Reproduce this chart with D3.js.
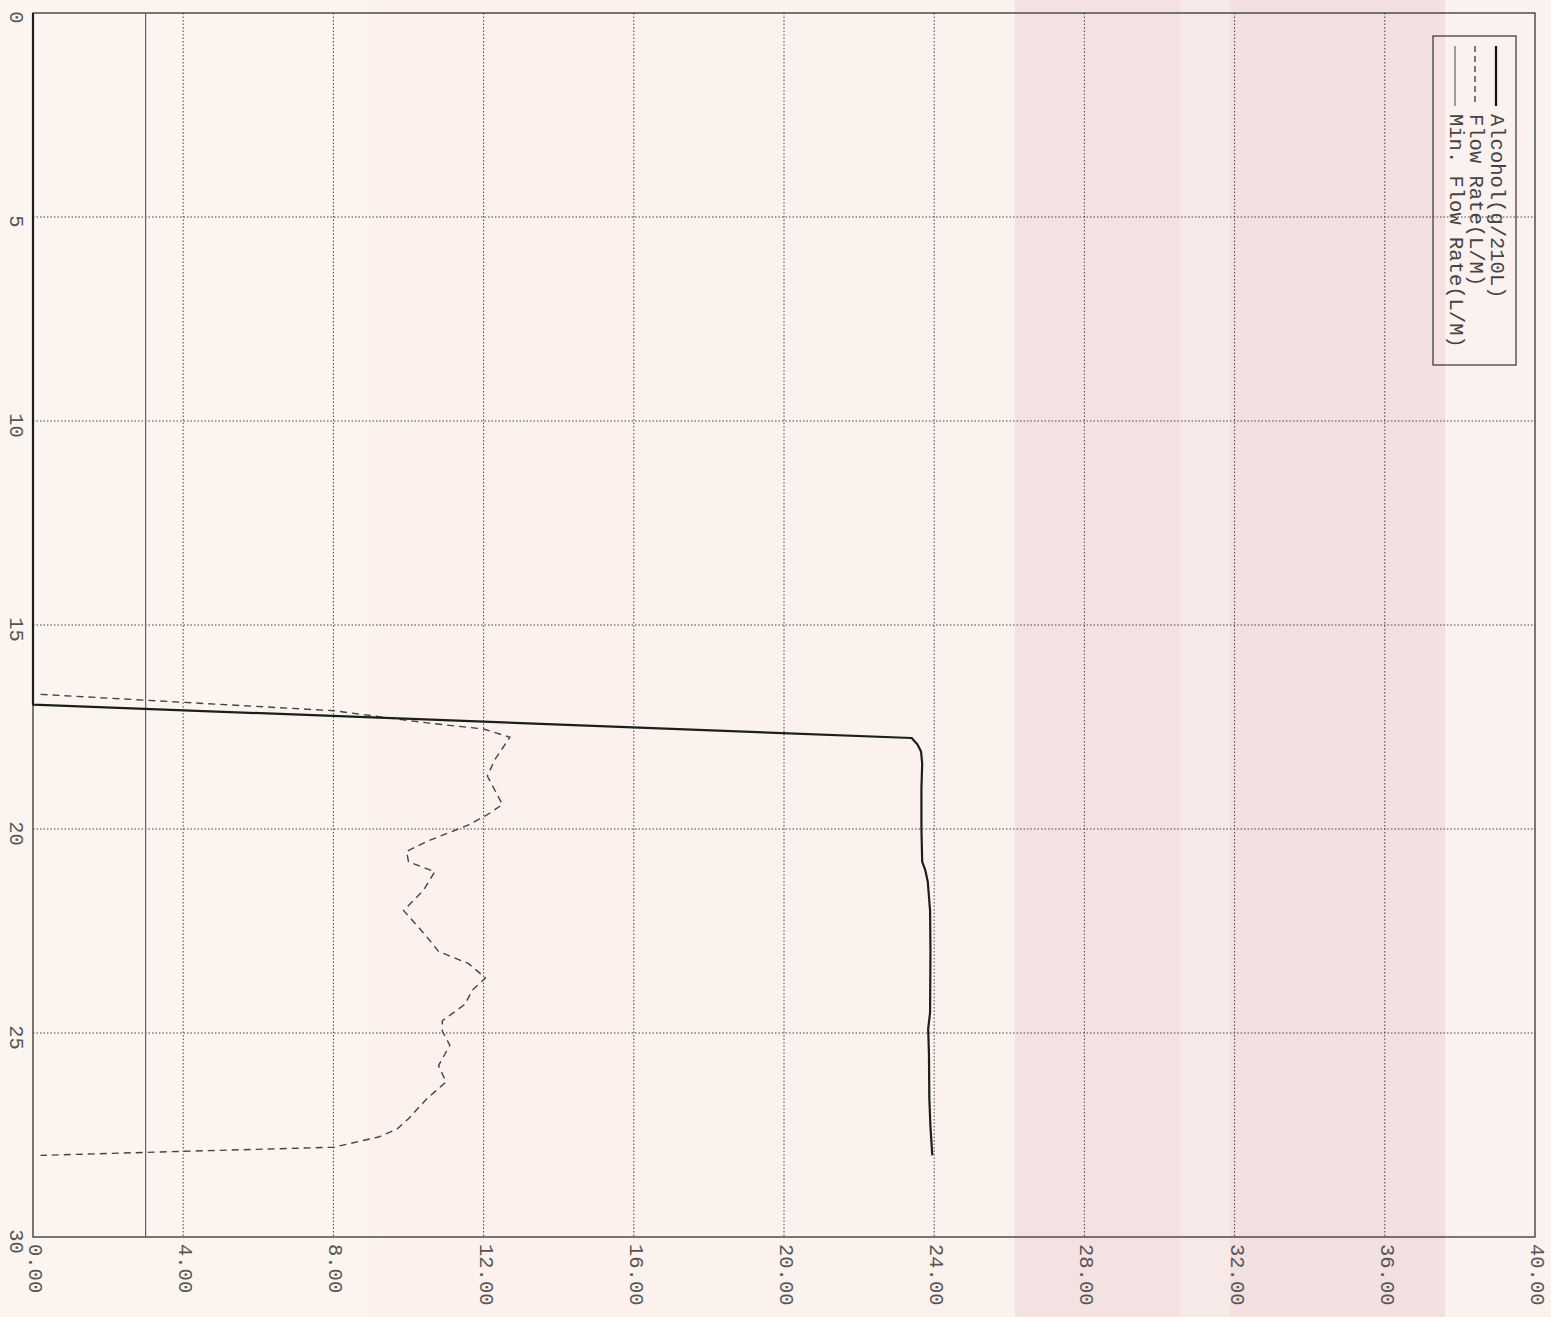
<!DOCTYPE html>
<html lang="en">
<head>
<meta charset="UTF-8">
<title>Breath test</title>
<style>
  body { margin: 0; background: #fcf5ef; }
  svg { display: block; }
</style>
</head>
<body>
<script src="https://cdn.jsdelivr.net/npm/d3@7/dist/d3.min.js"></script>
<script>
// --- data (time in seconds) ---
var alcoholTime  = [0, 16.95, 17.77, 17.92, 18.1, 18.4, 19.0, 20.0, 20.8, 21.0, 21.3, 22.0, 23.0, 24.5, 24.9, 25.5, 26.6, 27.3, 28.0];
var alcoholValue = [0, 0, 23.4, 23.55, 23.65, 23.68, 23.66, 23.66, 23.68, 23.76, 23.83, 23.89, 23.9, 23.89, 23.84, 23.86, 23.87, 23.9, 23.95];

var flowTime  = [16.7, 17.1, 17.4, 17.55, 17.75, 18.3, 18.7, 19.4, 19.65, 19.9, 20.3, 20.55, 20.8, 21.05, 21.5, 22.0, 22.6, 23.0, 23.3, 23.65, 23.95, 24.3, 24.7, 24.95, 25.3, 25.8, 26.2, 26.6, 27.1, 27.35, 27.55, 27.8, 27.9, 28.0];
var flowValue = [0.2, 8.0, 10.5, 12.0, 12.7, 12.3, 12.1, 12.5, 12.1, 11.6, 10.5, 9.95, 10.0, 10.7, 10.4, 9.87, 10.45, 10.8, 11.6, 12.05, 11.7, 11.5, 10.9, 10.9, 11.1, 10.8, 11.0, 10.5, 10.0, 9.7, 9.2, 8.0, 4.0, 0.2];

var minFlowTime  = [0, 30];
var minFlowValue = [3.0, 3.0];

var timeTicks  = [0, 5, 10, 15, 20, 25, 30];
var valueTicks = [0, 4, 8, 12, 16, 20, 24, 28, 32, 36, 40];
var legendLabels = ["Alcohol(g/210L)", "Flow Rate(L/M)", "Min. Flow Rate(L/M)"];

var W = 1551, H = 1317;
var plot = { left: 33, right: 1535, top: 13, bottom: 1237 };

var svg = d3.select("body").append("svg")
    .attr("width", W)
    .attr("height", H);

// scan tint bands in the background
var bands = [
  [0, 370, "#fcf5ef"], [370, 640, "#fcf1ec"], [640, 1015, "#fbf1ed"],
  [1015, 1180, "#f4e2e2"], [1180, 1230, "#f7e9e8"], [1230, 1445, "#f3e0e1"],
  [1445, 1551, "#fbf2ef"]
];
svg.selectAll("rect.band").data(bands).enter().append("rect")
    .attr("class", "band")
    .attr("x", function (d) { return d[0]; })
    .attr("y", 0)
    .attr("width", function (d) { return d[1] - d[0]; })
    .attr("height", H)
    .style("fill", function (d) { return d[2]; });

// scales: value goes across, time goes down
var x = d3.scaleLinear().domain([0, 40]).range([plot.left, plot.right]);
var y = d3.scaleLinear().domain([0, 30]).range([plot.top, plot.bottom]);

var font = "20.5px 'Liberation Mono', 'DejaVu Sans Mono', monospace";

// grid
svg.append("g").selectAll("line")
    .data(valueTicks.slice(1, -1)).enter().append("line")
    .attr("x1", function (d) { return x(d); })
    .attr("x2", function (d) { return x(d); })
    .attr("y1", plot.top).attr("y2", plot.bottom)
    .style("stroke", "#444")
    .style("stroke-width", 1)
    .style("stroke-dasharray", "1.5,2");

svg.append("g").selectAll("line")
    .data(timeTicks.slice(1, -1)).enter().append("line")
    .attr("y1", function (d) { return y(d); })
    .attr("y2", function (d) { return y(d); })
    .attr("x1", plot.left).attr("x2", plot.right)
    .style("stroke", "#444")
    .style("stroke-width", 1)
    .style("stroke-dasharray", "1.5,2");

// frame
svg.append("rect")
    .attr("x", plot.left).attr("y", plot.top)
    .attr("width", plot.right - plot.left).attr("height", plot.bottom - plot.top)
    .style("fill", "none")
    .style("stroke", "#333")
    .style("stroke-width", 1.3);

// axes (labels rotated to read top-to-bottom)
var timeAxis = svg.append("g")
    .attr("transform", "translate(" + plot.left + ",0)")
    .call(d3.axisLeft(y).tickValues(timeTicks).tickSize(0).tickFormat(d3.format("d")));
timeAxis.select(".domain").remove();
timeAxis.selectAll("text")
    .attr("x", null).attr("dy", null)
    .attr("transform", "translate(-18,4) rotate(90)")
    .style("text-anchor", "middle")
    .style("dominant-baseline", "central")
    .style("font", font)
    .style("fill", "#555");

var valueAxis = svg.append("g")
    .attr("transform", "translate(0," + plot.bottom + ")")
    .call(d3.axisBottom(x).tickValues(valueTicks).tickSize(0).tickFormat(d3.format(".2f")));
valueAxis.select(".domain").remove();
valueAxis.selectAll("text")
    .attr("y", null).attr("dy", null)
    .attr("transform", "translate(1,7) rotate(90)")
    .style("text-anchor", "start")
    .style("dominant-baseline", "central")
    .style("font", font)
    .style("fill", "#555");

// series
function pts(t, v) {
  return t.map(function (d, i) { return [d, v[i]]; });
}
var line = d3.line()
    .x(function (d) { return x(d[1]); })
    .y(function (d) { return y(d[0]); });

svg.append("path")
    .datum(pts(minFlowTime, minFlowValue))
    .attr("d", line)
    .style("fill", "none")
    .style("stroke", "#555")
    .style("stroke-width", 1.1);

svg.append("path")
    .datum(pts(flowTime, flowValue))
    .attr("d", line)
    .style("fill", "none")
    .style("stroke", "#444")
    .style("stroke-width", 1.4)
    .style("stroke-dasharray", "7,5");

svg.append("path")
    .datum(pts(alcoholTime, alcoholValue))
    .attr("d", line)
    .style("fill", "none")
    .style("stroke", "#1a1f1a")
    .style("stroke-width", 2.2)
    .style("stroke-linejoin", "round");

// legend
var legend = svg.append("g");
legend.append("rect")
    .attr("x", 1433).attr("y", 36)
    .attr("width", 83).attr("height", 329)
    .style("fill", "none")
    .style("stroke", "#333")
    .style("stroke-width", 1.2);

var legendX = [1496, 1475, 1455];
var legendStyle = [
  { w: 2.2, dash: null, c: "#111" },
  { w: 1.4, dash: "6,4", c: "#444" },
  { w: 1.1, dash: null, c: "#555" }
];
legendLabels.forEach(function (label, i) {
  legend.append("line")
      .attr("x1", legendX[i]).attr("x2", legendX[i])
      .attr("y1", 46).attr("y2", 106)
      .style("stroke", legendStyle[i].c)
      .style("stroke-width", legendStyle[i].w)
      .style("stroke-dasharray", legendStyle[i].dash);
  legend.append("text")
      .attr("transform", "translate(" + legendX[i] + ",114) rotate(90)")
      .style("text-anchor", "start")
      .style("dominant-baseline", "central")
      .style("font", font)
      .style("fill", "#444")
      .text(label);
});
</script>
</body>
</html>
